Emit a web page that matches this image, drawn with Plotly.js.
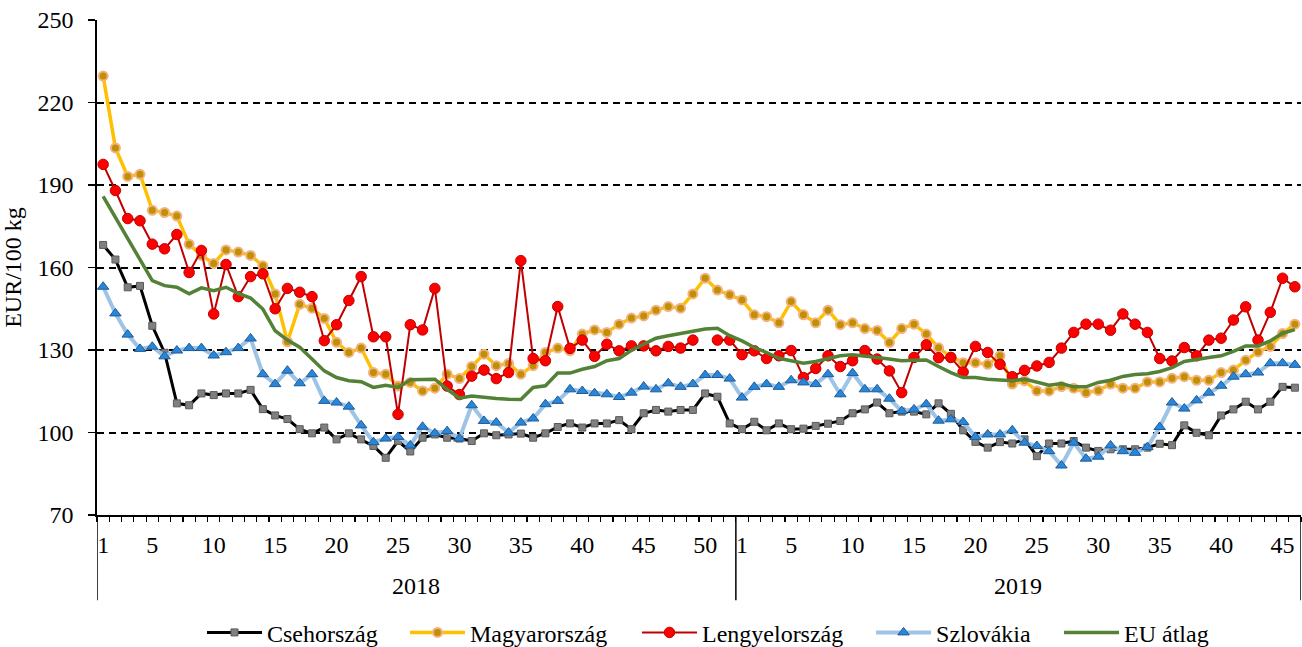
<!DOCTYPE html>
<html>
<head>
<meta charset="utf-8">
<script src="https://cdn.plot.ly/plotly-3.0.1.min.js"></script>
<style>html,body{margin:0;padding:0;background:#fff;}#chart{width:1302px;height:647px;}</style>
</head>
<body>
<div id="chart"></div>
<script>
// Categories: weeks of 2018 (1-52) and 2019 (1-46)
const years = ["2018", "2019"];
const weeksPerYear = [52, 46];
const tickWeeks2018 = [1, 5, 10, 15, 20, 25, 30, 35, 40, 45, 50];
const tickWeeks2019 = [1, 5, 10, 15, 20, 25, 30, 35, 40, 45];

// EUR/100 kg
const csehorszag = [
  168.2, 162.9, 152.8, 153.3, 138.8, 129.0, 110.6, 109.9, 114.2, 113.6,
  114.2, 114.2, 115.5, 108.5, 106.2, 104.9, 101.2, 99.7, 101.8, 97.5,
  99.7, 97.5, 95.1, 90.8, 96.9, 93.1, 98.1, 99.3, 98.1, 97.8,
  96.9, 99.7, 99.0, 99.3, 99.6, 98.1, 99.7, 102.0, 103.3, 101.8,
  103.3, 103.3, 104.5, 101.2, 107.0, 108.2, 107.6, 108.2, 108.2, 114.2,
  113.0, 103.3,
  101.2, 103.9, 100.8, 103.3, 101.2, 101.4, 102.4, 103.2, 104.2, 107.0,
  108.4, 110.9, 107.0, 107.6, 107.6, 106.6, 110.6, 106.8, 100.8, 96.6,
  94.5, 96.5, 96.0, 97.5, 91.4, 96.0, 96.0, 96.9, 94.5, 93.3,
  93.9, 93.9, 93.9, 94.5, 95.9, 95.4, 102.6, 99.9, 99.0, 106.2,
  108.4, 111.2, 108.4, 111.2, 116.6, 116.3
];
const magyarorszag = [
  229.6, 203.5, 193.1, 193.9, 180.8, 180.0, 178.7, 168.5, 164.4, 161.5,
  166.4, 165.6, 164.4, 160.6, 150.4, 133.0, 146.6, 145.2, 141.5, 132.8,
  129.1, 130.7, 121.8, 121.2, 116.9, 118.2, 115.1, 116.1, 121.2, 119.6,
  124.0, 128.5, 124.3, 125.1, 121.2, 124.3, 129.1, 130.7, 129.7, 135.8,
  137.3, 136.4, 139.4, 141.6, 142.4, 144.5, 145.8, 145.2, 150.4, 156.1,
  151.8, 150.1,
  148.2, 142.8, 142.1, 139.9, 147.6, 142.8, 139.9, 144.5, 139.2, 139.9,
  137.8, 137.1, 132.7, 137.8, 139.4, 135.8, 130.8, 127.5, 125.4, 125.4,
  124.8, 127.9, 117.6, 118.8, 115.1, 115.1, 116.7, 116.1, 114.5, 115.3,
  117.6, 116.1, 116.1, 118.4, 118.4, 119.7, 120.3, 119.0, 119.0, 121.8,
  122.7, 126.3, 129.3, 131.3, 136.0, 139.4
];
const lengyelorszag = [
  197.5, 188.0, 177.8, 177.0, 168.5, 166.8, 172.0, 158.2, 166.2, 143.1,
  161.1, 149.4, 156.7, 157.7, 145.0, 152.4, 151.0, 149.4, 133.4, 139.2,
  148.0, 156.7, 134.8, 134.8, 106.6, 139.2, 137.3, 152.4, 116.9, 113.8,
  120.5, 122.7, 119.6, 121.8, 162.5, 126.9, 126.1, 145.8, 130.6, 133.6,
  127.7, 132.1, 129.7, 131.5, 131.5, 129.7, 131.3, 130.7, 133.6, null,
  133.6, 133.6,
  128.3, 129.7, 126.9, 127.9, 129.8, 120.0, 123.3, 127.9, 124.0, 126.1,
  129.8, 126.7, 122.4, 114.5, 127.3, 131.9, 127.2, 127.3, 122.0, 131.3,
  129.1, 124.8, 120.3, 122.6, 124.2, 125.5, 130.7, 136.4, 139.4, 139.4,
  137.2, 143.1, 139.4, 136.4, 126.9, 126.0, 130.9, 127.9, 133.6, 134.3,
  140.9, 145.7, 133.6, 143.7, 156.1, 153.0
];
const szlovakia = [
  153.0, 143.3, 135.6, 130.4, 131.2, 127.7, 129.8, 130.7, 130.7, 128.0,
  129.2, 130.7, 134.2, 121.2, 117.6, 122.5, 117.9, 121.2, 111.5, 110.9,
  109.4, 102.6, 96.5, 97.8, 98.4, 95.3, 102.1, 99.7, 100.5, 97.8,
  109.9, 104.2, 103.6, 100.0, 103.6, 105.1, 110.3, 111.5, 115.7, 115.1,
  114.3, 113.9, 112.9, 114.5, 116.7, 115.7, 117.9, 116.6, 117.6, 120.9,
  120.9, 119.6,
  112.7, 116.6, 117.6, 116.6, 119.0, 118.2, 117.6, 121.2, 113.9, 121.6,
  115.7, 115.7, 112.3, 107.8, 108.4, 110.3, 104.3, 104.8, 103.8, 98.4,
  99.3, 99.3, 100.8, 96.3, 95.1, 93.2, 88.0, 96.3, 90.5, 91.2,
  95.3, 93.2, 92.6, 94.7, 102.0, 110.9, 108.7, 111.7, 114.5, 117.0,
  120.3, 121.2, 121.8, 125.2, 125.2, 124.6
];
const euAtlag = [
  185.9, 178.2, 170.5, 162.9, 155.2, 153.4, 152.8, 150.4, 152.6, 151.6,
  152.8, 150.6, 148.9, 144.9, 137.0, 133.6, 131.0, 126.7, 122.4, 120.0,
  118.8, 118.5, 116.4, 117.2, 116.4, 119.2, 119.4, 119.4, 115.7, 112.5,
  113.3, 112.7, 112.4, 112.1, 112.0, 116.4, 117.0, 121.6, 121.6, 123.0,
  124.0, 126.1, 126.9, 129.9, 132.1, 134.3, 135.2, 136.0, 136.8, 137.6,
  137.9, 135.2,
  133.3, 130.9, 129.1, 127.0, 126.1, 125.2, 125.8, 126.7, 127.9, 128.3,
  127.9, 127.3, 126.7, 126.1, 126.3, 126.4, 124.0, 121.8, 120.0, 120.0,
  119.4, 119.0, 118.8, 119.4, 118.2, 117.2, 117.8, 116.6, 116.6, 118.2,
  119.0, 120.4, 121.1, 121.4, 122.2, 123.6, 125.8, 126.7, 127.3, 127.9,
  129.5, 131.5, 131.5, 133.3, 136.1, 137.4
];

// category positions
const xIdx = [];
let n = 0;
weeksPerYear.forEach(function (cnt) {
  for (let w = 1; w <= cnt; w++) { xIdx.push(n); n++; }
});
const offset2019 = weeksPerYear[0];
const tickVals = tickWeeks2018.map(w => w - 1).concat(tickWeeks2019.map(w => offset2019 + w - 1));
const tickText = tickWeeks2018.concat(tickWeeks2019).map(String);
const xMin = -0.5, xMax = n - 0.5;
const yearCenters = [(xMin + offset2019 - 0.5) / 2, (offset2019 - 0.5 + xMax) / 2];
const dividers = [xMin, offset2019 - 0.5, xMax];

const FONT = "Liberation Serif, Times New Roman, serif";
const FS = 24;

const traces = [
  {name: "Csehország", legend: "legend", x: xIdx, y: csehorszag, mode: "lines+markers",
   line: {color: "#000000", width: 3},
   marker: {symbol: "square", size: 7, color: "#808080", line: {color: "#5a5a5a", width: 1}}},
  {name: "Magyarország", legend: "legend2", x: xIdx, y: magyarorszag, mode: "lines+markers",
   line: {color: "#FFC000", width: 3.5},
   marker: {symbol: "circle", size: 9, color: "#BF9000", line: {color: "#F4B183", width: 2}}},
  {name: "Lengyelország", legend: "legend3", x: xIdx, y: lengyelorszag, mode: "lines+markers", connectgaps: false,
   line: {color: "#C00000", width: 2},
   marker: {symbol: "circle", size: 10.5, color: "#FF0000", line: {color: "#C00000", width: 1}}},
  {name: "Szlovákia", legend: "legend4", x: xIdx, y: szlovakia, mode: "lines+markers",
   line: {color: "#9DC3E6", width: 4},
   marker: {symbol: "triangle-up", size: 10, color: "#2A86D6", line: {color: "#1F5C99", width: 1}}},
  {name: "EU átlag", legend: "legend5", x: xIdx, y: euAtlag, mode: "lines",
   line: {color: "#538135", width: 3.5}}
];
// empty trace carrying the week-label axis
traces.push({x: [xMin, xMax], y: [null, null], xaxis: "x2", yaxis: "y", showlegend: false, hoverinfo: "skip", mode: "lines"});

const shapes = dividers.map(function (d) {
  return {type: "line", xref: "x", yref: "paper", x0: d, x1: d, y0: 0, y1: -0.172,
          line: {color: "#000000", width: 1.5}};
});

// legend entry left edges (paper fraction)
const legendX = [0.0872, 0.2558, 0.4485, 0.6429, 0.799];
function legendBox(x) {
  return {orientation: "h", x: x, xanchor: "left", y: -0.238, yanchor: "middle",
          bgcolor: "rgba(0,0,0,0)", font: {family: FONT, size: FS, color: "#000000"}, itemwidth: 55};
}

const layout = {
  width: 1302, height: 647,
  margin: {l: 97, r: 1, t: 20, b: 132, autoexpand: false},
  paper_bgcolor: "#ffffff", plot_bgcolor: "#ffffff",
  font: {family: FONT, size: FS, color: "#000000"},
  showlegend: true,
  legend: legendBox(legendX[0]),
  legend2: legendBox(legendX[1]),
  legend3: legendBox(legendX[2]),
  legend4: legendBox(legendX[3]),
  legend5: legendBox(legendX[4]),
  xaxis: {range: [xMin, xMax], tickmode: "linear", tick0: xMin, dtick: 1,
          ticks: "outside", ticklen: 5, tickwidth: 1.2, tickcolor: "#000000",
          showticklabels: false, showgrid: false, zeroline: false,
          showline: true, linecolor: "#000000", linewidth: 1.8},
  xaxis2: {overlaying: "x", anchor: "y", side: "bottom", range: [xMin, xMax],
           tickmode: "array", tickvals: tickVals, ticktext: tickText,
           ticks: "outside", ticklen: 8, tickcolor: "rgba(0,0,0,0)",
           showgrid: false, zeroline: false, showline: false,
           tickfont: {family: FONT, size: FS, color: "#000000"}},
  yaxis: {range: [70, 250], tickmode: "linear", tick0: 70, dtick: 30,
          ticks: "outside", ticklen: 7, tickwidth: 1.5, tickcolor: "#000000",
          showline: true, linecolor: "#000000", linewidth: 1.8,
          showgrid: true, gridcolor: "#000000", gridwidth: 2, griddash: "7px,5px",
          zeroline: false, ticklabelstandoff: 10,
          tickfont: {family: FONT, size: FS, color: "#000000"},
          title: {text: "EUR/100 kg", font: {family: FONT, size: FS, color: "#000000"}, standoff: 12}},
  annotations: years.map(function (yr, k) {
    return {text: yr, xref: "x", yref: "paper", x: yearCenters[k], y: -0.1434,
            xanchor: "center", yanchor: "middle", showarrow: false,
            font: {family: FONT, size: FS, color: "#000000"}};
  }),
  shapes: shapes
};

Plotly.newPlot("chart", traces, layout, {displayModeBar: false, staticPlot: true});
</script>
</body>
</html>
